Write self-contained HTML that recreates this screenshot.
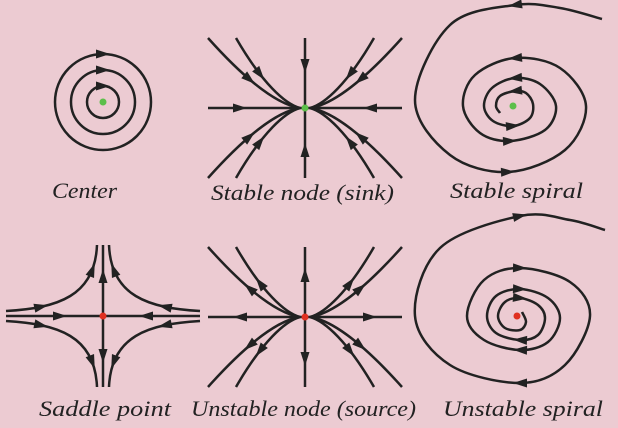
<!DOCTYPE html>
<html><head><meta charset="utf-8"><style>
html,body{margin:0;padding:0;background:#eccbd2;}
svg{display:block;}
text{font-family:"Liberation Serif","Times New Roman",serif;font-style:italic;font-size:22px;fill:#222;}
</style></head><body>
<svg id="fig" width="618" height="428" viewBox="0 0 618 428">
<rect width="618" height="428" fill="#eccbd2"/>
<g id="lines" fill="none" stroke="#222" stroke-width="2.5"></g>
<g id="arrows" fill="#222"></g>
<g id="dots"></g>
<text x="52" y="198" textLength="65" lengthAdjust="spacingAndGlyphs">Center</text>
<text x="211" y="200" textLength="183" lengthAdjust="spacingAndGlyphs">Stable node (sink)</text>
<text x="450" y="198" textLength="133" lengthAdjust="spacingAndGlyphs">Stable spiral</text>
<text x="39" y="416" textLength="132" lengthAdjust="spacingAndGlyphs">Saddle point</text>
<text x="191" y="416" textLength="225" lengthAdjust="spacingAndGlyphs">Unstable node (source)</text>
<text x="443" y="416" textLength="160" lengthAdjust="spacingAndGlyphs">Unstable spiral</text>
</svg>
<script>
const centerRadii=[16,32,48];
const stableSpiralPts=[[602,19],[560,8],[515,5],[450,25],[415,100],[450,155],[508,172],[565,150],[586,106],[560,68],[515,58],[475,75],[463,106],[480,133],[510,141],[545,130],[556,106],[540,84],[515,78],[492,88],[484,106],[493,121],[513,126],[530,118],[533,104],[526,93],[515,91],[500,96],[496,106],[500,113]];
const stableSpiralArrowIdx=[2,6,10,14,18,22,26];
const unstableSpiralPts=[[522,312],[526,322],[520,330],[505,328],[498,316],[505,302],[520,298],[538,305],[545,318],[538,335],[520,340],[496,333],[487,316],[496,296],[520,289],[548,298],[560,318],[548,342],[520,350],[484,340],[467,316],[484,280],[520,268],[570,282],[590,316],[565,365],[520,383],[450,365],[415,316],[440,248],[520,216],[570,220],[605,230]];
const unstableSpiralArrowIdx=[6,10,14,18,22,26,30];

const NS='http://www.w3.org/2000/svg';
const L=document.getElementById('lines'),A=document.getElementById('arrows'),D=document.getElementById('dots');
function path(d,name){const p=document.createElementNS(NS,'path');p.setAttribute('d',d);


L.appendChild(p);return p;}
function arrow(x,y,dx,dy){const m=Math.hypot(dx,dy)||1;const ux=dx/m,uy=dy/m,s=7,w=4.5;
const t=document.createElementNS(NS,'polygon');
t.setAttribute('points',`${x+ux*s},${y+uy*s} ${x-ux*s+uy*w},${y-uy*s-ux*w} ${x-ux*s-uy*w},${y-uy*s+ux*w}`);


A.appendChild(t);}
function dot(x,y,c){const e=document.createElementNS(NS,'circle');e.setAttribute('cx',x);e.setAttribute('cy',y);e.setAttribute('r',3.5);e.setAttribute('fill',c);


D.appendChild(e);}
function arrowOnPath(p,f){const len=p.getTotalLength(),a=p.getPointAtLength(len*f),b=p.getPointAtLength(len*f+1);arrow(a.x,a.y,b.x-a.x,b.y-a.y);}

centerRadii.forEach(r=>{const c=document.createElementNS(NS,'circle');c.setAttribute('cx',103);c.setAttribute('cy',102);c.setAttribute('r',r);


L.appendChild(c);arrow(103,102-r,1,0);});
dot(103,102,'#5cbf4a');

function node(cx,cy,out){
 [[-1,-1],[1,-1],[-1,1],[1,1]].forEach(([sx,sy])=>{
  [[97,55,25],[69,43,20]].forEach(([a,b,c],k)=>{
   const S=[cx+sx*a,cy+sy*70],C1=[cx+sx*b,cy+sy*(k?25:23)],C2=[cx+sx*c,cy+sy*(k?4:3)],E=[cx+sx*5,cy];
   const d=out?`M${E} C${C2} ${C1} ${S}`:`M${S} C${C1} ${C2} ${E}`;
   const p=path(d,'trajectory-curve');arrowOnPath(p,out?(k?0.55:0.5):(k?0.45:0.5));
  });
 });
 path(`M${cx-97},${cy} H${cx+97}`,'horizontal-axis-trajectory');
 path(`M${cx},${cy-70} V${cy+70}`,'vertical-axis-trajectory');
 const o=out?1:-1;
 arrow(cx-65,cy,-o,0);arrow(cx+65,cy,o,0);arrow(cx,cy-70*0.6,0,-o);arrow(cx,cy+70*0.6,0,o);
}
node(305,108,false);dot(305,108,'#5cbf4a');
node(305,317,true);dot(305,317,'#e03020');

(function(){const cx=103,cy=316;
 path(`M6,${cy} H200`,'stable-manifold');path(`M${cx},245 V387`,'unstable-manifold');
 arrow(60,cy,1,0);arrow(146,cy,-1,0);arrow(cx,276,0,-1);arrow(cx,356,0,1);
 [[-1,-1],[1,-1],[-1,1],[1,1]].forEach(([sx,sy])=>{
  const p=path(`M${cx+sx*97},${cy+sy*5} C${cx+sx*45},${cy+sy*8} ${cx+sx*8},${cy+sy*20} ${cx+sx*6},${cy+sy*71}`,'hyperbolic-trajectory');
  arrowOnPath(p,0.28);arrowOnPath(p,0.8);
 });
 dot(cx,cy,'#e03020');
})();

function crPath(P){let d=`M${P[0]}`;for(let i=0;i<P.length-1;i++){const p0=P[Math.max(0,i-1)],p1=P[i],p2=P[i+1],p3=P[Math.min(P.length-1,i+2)];
 d+=` C${p1[0]+(p2[0]-p0[0])/6},${p1[1]+(p2[1]-p0[1])/6} ${p2[0]-(p3[0]-p1[0])/6},${p2[1]-(p3[1]-p1[1])/6} ${p2[0]},${p2[1]}`;}return d;}
function spiral(P,idx,name){path(crPath(P),name);idx.forEach(i=>{arrow(P[i][0],P[i][1],P[i+1][0]-P[i-1][0],P[i+1][1]-P[i-1][1]);});}
spiral(stableSpiralPts,stableSpiralArrowIdx,'stable-spiral-trajectory');dot(513,106,'#5cbf4a');
spiral(unstableSpiralPts,unstableSpiralArrowIdx,'unstable-spiral-trajectory');dot(517,316,'#e03020');
</script>
</body></html>
